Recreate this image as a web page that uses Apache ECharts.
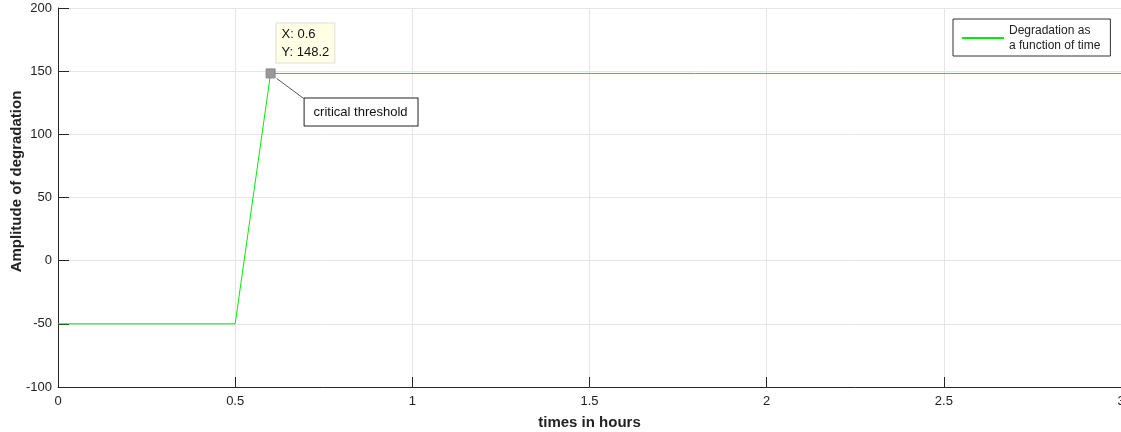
<!DOCTYPE html>
<html>
<head>
<meta charset="utf-8">
<script src="https://cdn.jsdelivr.net/npm/echarts@6/dist/echarts.min.js"></script>
<style>
  html, body { margin: 0; padding: 0; background: #fff; }
  #main { width: 1121px; height: 432px; }
</style>
</head>
<body>
<div id="main"></div>
<script>
// degradation curve
var times = [0, 0.5, 0.6, 3];
var amplitude = [-50, -50, 148.2, 148.2];
var tipX = 0.6;
var tipY = 148.2;
var xTicks = [0, 0.5, 1, 1.5, 2, 2.5, 3];
var yTicks = [-100, -50, 0, 50, 100, 150, 200];

var points = times.map(function (t, i) { return [t, amplitude[i]]; });

var font = '"Liberation Sans", Arial, sans-serif';
var axisDark = '#262626';

var chartDom = document.getElementById('main');
var myChart = echarts.init(chartDom, null, { renderer: 'canvas' });
var option = {
    animation: false,
    textStyle: { fontFamily: font },
    grid: {
      left: 58,
      right: 0,
      top: 8,
      bottom: 45,
      outerBoundsMode: 'none',
      containLabel: false
    },
    legend: {
      left: 953,
      top: 19,
      orient: 'vertical',
      borderColor: '#333',
      borderWidth: 1,
      padding: [4, 10, 3, 9],
      itemWidth: 42,
      itemHeight: 2,
      itemGap: 0,
      icon: 'rect',
      textStyle: { fontSize: 12, color: '#222', lineHeight: 15, fontFamily: font },
      data: ['Degradation as\na function of time']
    },
    xAxis: {
      type: 'value',
      min: xTicks[0],
      max: xTicks[xTicks.length - 1],
      interval: 0.5,
      name: 'times in hours',
      nameLocation: 'middle',
      nameGap: 28,
      nameMoveOverlap: false,
      nameTextStyle: { fontWeight: 'bold', fontSize: 15, color: '#222' },
      axisLine: { onZero: false, lineStyle: { color: axisDark } },
      axisTick: { inside: true, length: 10, lineStyle: { color: axisDark } },
      axisLabel: { color: '#222', fontSize: 13, margin: 8, showMaxLabel: true },
      splitLine: { show: true, lineStyle: { color: '#e5e5e5' } }
    },
    yAxis: {
      type: 'value',
      min: yTicks[0],
      max: yTicks[yTicks.length - 1],
      interval: 50,
      name: 'Amplitude of degradation',
      nameLocation: 'middle',
      nameGap: 34,
      nameMoveOverlap: false,
      nameTextStyle: { fontWeight: 'bold', fontSize: 15, color: '#222', padding: [0, 0, 0, 32] },
      axisLine: { show: true, onZero: false, lineStyle: { color: axisDark } },
      axisTick: { show: true, inside: true, length: 11, lineStyle: { color: axisDark } },
      axisLabel: { color: '#222', fontSize: 13, margin: 6 },
      splitLine: { show: true, lineStyle: { color: '#e5e5e5' } }
    },
    series: [
      {
        name: 'Degradation as\na function of time',
        type: 'line',
        symbol: 'none',
        color: '#00ee00',
        lineStyle: { width: 1, color: '#00ee00' },
        data: points,
        markPoint: {
          symbol: 'rect',
          symbolSize: 9,
          itemStyle: { color: '#999', borderColor: '#888', borderWidth: 1 },
          label: {
            show: true,
            position: [11, -45],
            formatter: 'X: ' + tipX + '\nY: ' + tipY,
            color: '#111',
            fontSize: 13,
            lineHeight: 18,
            backgroundColor: '#ffffe6',
            borderColor: '#ddd',
            borderWidth: 1,
            padding: [2, 5, 1, 5]
          },
          data: [{ coord: [tipX, tipY] }]
        }
      }
    ]
};
myChart.setOption(option);

// annotation pointing at the datatip
var p = myChart.convertToPixel({ gridIndex: 0 }, [tipX, tipY]);
myChart.setOption({
  graphic: [
    {
      type: 'line',
      shape: { x1: p[0] + 6, y1: p[1] + 5, x2: p[0] + 33, y2: p[1] + 25 },
      style: { stroke: '#555', lineWidth: 1 }
    },
    {
      type: 'text',
      left: p[0] + 33,
      top: p[1] + 24,
      style: {
        text: 'critical threshold',
        font: '13px ' + font,
        fill: '#111',
        backgroundColor: '#fff',
        borderColor: '#222',
        borderWidth: 1,
        padding: [7, 10, 7, 9]
      }
    }
  ]
});
</script>
</body>
</html>
